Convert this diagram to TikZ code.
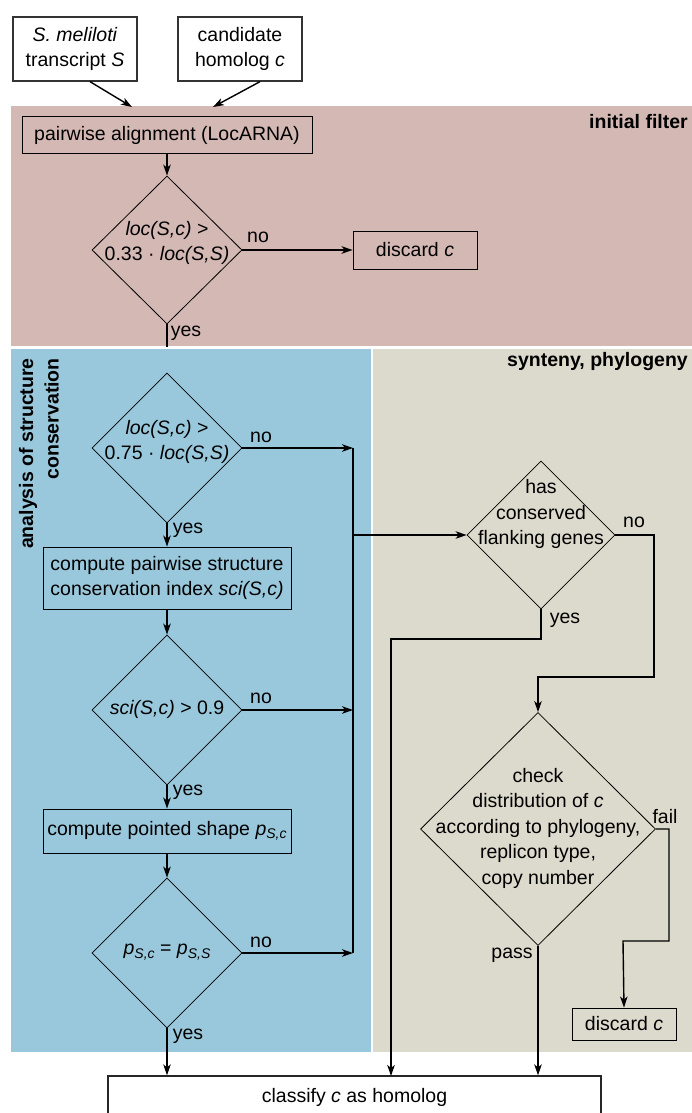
\documentclass[tikz,border=0pt]{standalone}
\usepackage{fontspec}
\setmainfont{Liberation Sans}
\usetikzlibrary{shapes.geometric,arrows.meta,calc}
\definecolor{pinkbg}{RGB}{212,184,180}
\definecolor{bluebg}{RGB}{153,200,220}
\definecolor{graybg}{RGB}{220,218,204}
\newcommand\mysubs[1]{\raisebox{-0.35ex}{\fontsize{14}{14}\selectfont\textit{#1}}}
\begin{document}
\begin{tikzpicture}[x=1pt,y=-1pt,
  font=\fontsize{19.5}{25.5}\selectfont,
  box/.style={draw=black, line width=0.9pt, rectangle, inner sep=0pt, align=center},
  topbox/.style={draw=black!80, line width=1.3pt, rectangle, inner sep=0pt, align=center, fill=white},
  dia/.style={draw=black, line width=0.8pt, diamond, inner sep=0pt},
  txt/.style={align=center, inner sep=0pt},
  lbl/.style={inner sep=0pt},
  arr/.style={line width=1.4pt, -{Stealth[length=11pt,width=7.5pt,inset=3pt]}},
  ln/.style={line width=1.4pt},
  head/.style={font=\fontsize{19.5}{25.5}\selectfont\bfseries, inner sep=0pt}]
\useasboundingbox (0,0) rectangle (692,1113);
% background bands
\fill[pinkbg] (11,106) rectangle (692,346);
\fill[bluebg] (11,349) rectangle (371,1052);
\fill[graybg] (373,349) rectangle (692,1052);
% band headings
\node[head, anchor=east] (hif) at (688,122) {initial filter};
\node[head, anchor=east] (hsp) at (688,361) {synteny, phylogeny};
\node[head, rotate=90, anchor=east, align=right] (hasc) at (39,358) {analysis of structure\\conservation};
% input boxes
\node[topbox, minimum width=124pt, minimum height=64pt] (s) at (75,49) {\textit{S. meliloti}\\transcript \textit{S}};
\node[topbox, minimum width=124pt, minimum height=64pt] (h) at (240,49) {candidate\\homolog \textit{c}};
\coordinate (ia) at (132,107);
\coordinate (ib) at (213,107);
\draw[arr] ([xshift=15pt]s.south) -- (ia);
\draw[arr] ([xshift=20pt]h.south) -- (ib);
% initial filter
\node[box, minimum width=290pt, minimum height=37pt] (pa) at (167,135) {pairwise alignment (LocARNA)};
\node[dia, minimum width=150pt, minimum height=148pt] (d1) at (167,250) {};
\node[txt] (t1) at (167,243) {\textit{loc(S,c)} >\\0.33 · \textit{loc(S,S)}};
\node[box, minimum width=124pt, minimum height=38pt] (dc1) at (415,250) {discard \textit{c}};
\coordinate (y1) at (167,347);
\draw[arr] (pa) -- (d1.north);
\draw[arr] (d1.east) -- (dc1.west);
\draw[ln] (d1.south) -- (y1);
\node[lbl] (l1n) at (258,237) {no};
\node[lbl] (l1y) at (186,333) {yes};
% structure conservation
\node[dia, minimum width=150pt, minimum height=150pt] (d2) at (167,448) {};
\node[txt] (t2) at (167,442) {\textit{loc(S,c)} >\\0.75 · \textit{loc(S,S)}};
\node[box, minimum width=248pt, minimum height=62pt] (b1) at (167,578) {compute pairwise structure\\conservation index \textit{sci(S,c)}};
\node[dia, minimum width=150pt, minimum height=150pt] (d3) at (167,710) {};
\node[txt] (t3) at (167,709) {\textit{sci(S,c)} > 0.9};
\node[box, minimum width=248pt, minimum height=44pt] (b2) at (167,831) {compute pointed shape \textit{p}\mysubs{S,c}};
\node[dia, minimum width=150pt, minimum height=150pt] (d4) at (167,953) {};
\node[txt] (t4) at (167,952) {\textit{p}\mysubs{S,c} = \textit{p}\mysubs{S,S}};
\coordinate (j1) at (353,448);
\coordinate (j2) at (353,710);
\coordinate (j3) at (353,953);
\coordinate (j4) at (353,535);
\draw[arr] (d2.east) -- (j1);
\draw[arr] (d3.east) -- (j2);
\draw[arr] (d4.east) -- (j3);
\draw[ln] (j1) -- (j3);
\draw[arr] (d2.south) -- (b1.north);
\draw[arr] (b1.south) -- (d3.north);
\draw[arr] (d3.south) -- (b2.north);
\draw[arr] (b2.south) -- (d4.north);
\node[lbl] (l2n) at (261,437) {no};
\node[lbl] (l3n) at (261,698) {no};
\node[lbl] (l4n) at (261,942) {no};
\node[lbl] (l2y) at (188,530) {yes};
\node[lbl] (l3y) at (188,792) {yes};
\node[lbl] (l4y) at (188,1036) {yes};
% synteny, phylogeny
\node[dia, minimum width=148pt, minimum height=148pt] (d5) at (541,535) {};
\node[txt] (t5) at (541,514) {has\\conserved\\flanking genes};
\node[dia, minimum width=235pt, minimum height=233pt] (d6) at (538,829) {};
\node[txt] (t6) at (538,828) {check\\distribution of \textit{c}\\according to phylogeny,\\replicon type,\\copy number};
\node[box, minimum width=104pt, minimum height=32pt] (dc2) at (624,1024) {discard \textit{c}};
\draw[arr] (j4) -- (d5.west);
\draw[arr] (d5.east) -- (654,535) -- (654,677) -- (538,677) -- (d6.north);
\draw[arr] (d6.east) -- (669,829) -- (669,941) -- (623,941) -- (dc2.north);
\node[lbl] (l5n) at (634,522) {no};
\node[lbl] (l5y) at (565,620) {yes};
\node[lbl] (l6f) at (665,817) {fail};
\node[lbl] (l6p) at (512,955) {pass};
% result
\node[box, draw=black!85, line width=1.3pt, minimum width=493pt, minimum height=42pt] (cl) at (354.5,1097) {classify \textit{c} as homolog};
\draw[arr] (d4.south) -- (d4.south |- cl.north);
\draw[arr] (d5.south) -- (541,639) -- (391,639) -- (391,1076);
\draw[arr] (d6.south) -- (d6.south |- cl.north);
\end{tikzpicture}
\end{document}
